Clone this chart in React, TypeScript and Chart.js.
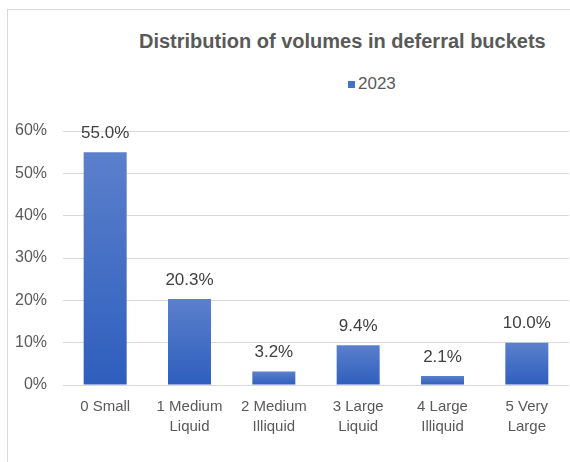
import React, { useEffect, useRef } from "react";
import { Chart, registerables } from "chart.js";

Chart.register(...registerables);

const chartTitle = "Distribution of volumes in deferral buckets";
const seriesName = "2023";
const categories: string[][] = [
  ["0 Small"],
  ["1 Medium", "Liquid"],
  ["2 Medium", "Illiquid"],
  ["3 Large", "Liquid"],
  ["4 Large", "Illiquid"],
  ["5 Very", "Large"],
];
const values2023 = [55.0, 20.3, 3.2, 9.4, 2.1, 10.0];
const yTicks = [0, 10, 20, 30, 40, 50, 60];

const FONT = "'Liberation Sans', Arial, sans-serif";

const valueLabelPlugin = {
  id: "valueLabels",
  afterDatasetsDraw(chart: any) {
    const ctx = chart.ctx;
    const meta = chart.getDatasetMeta(0);
    ctx.save();
    ctx.font = `17px ${FONT}`;
    ctx.fillStyle = "#404040";
    ctx.textAlign = "center";
    ctx.textBaseline = "middle";
    meta.data.forEach((el: any, i: number) => {
      const v = chart.data.datasets[0].data[i] as number;
      ctx.fillText(`${v.toFixed(1)}%`, el.x, el.y - 19);
    });
    ctx.restore();
  },
};

export default function App() {
  const ref = useRef<HTMLCanvasElement | null>(null);

  useEffect(() => {
    if (!ref.current) return;
    const chart = new Chart(ref.current, {
      type: "bar",
      data: {
        labels: categories,
        datasets: [
          {
            label: seriesName,
            data: values2023,
            barPercentage: 0.51,
            categoryPercentage: 1,
            backgroundColor: (c: any) => {
              const ch = c.chart;
              const ys = ch.scales?.y;
              if (!ys || !ch.chartArea || c.raw === undefined) return "#3f6cc4";
              const top = ys.getPixelForValue(c.raw);
              const bottom = ys.getPixelForValue(0);
              if (!isFinite(top) || !isFinite(bottom) || top === bottom) return "#3f6cc4";
              const g = ch.ctx.createLinearGradient(0, top, 0, bottom);
              g.addColorStop(0, "#5b80cc");
              g.addColorStop(1, "#2e5ebd");
              return g;
            },
          },
        ],
      },
      options: {
        animation: false,
        responsive: false,
        maintainAspectRatio: false,
        layout: { padding: { top: 121, right: 1, left: 0, bottom: 0 } },
        plugins: {
          legend: { display: false },
          title: { display: false },
          tooltip: { enabled: false },
        },
        scales: {
          x: {
            grid: { display: false, drawTicks: false },
            border: { display: false },
            ticks: {
              color: "#595959",
              font: { family: FONT, size: 15, lineHeight: 1.33 },
              padding: 12,
              maxRotation: 0,
              autoSkip: false,
            },
            afterFit: (s: any) => {
              s.height = 77;
            },
          },
          y: {
            min: 0,
            max: 60,
            afterBuildTicks: (s: any) => {
              s.ticks = yTicks.map((v) => ({ value: v }));
            },
            grid: { color: "#d9d9d9", lineWidth: 1, drawTicks: false },
            border: { display: false },
            ticks: {
              color: "#595959",
              font: { family: FONT, size: 16 },
              padding: 16,
              callback: (v: any) => `${v}%`,
            },
            afterFit: (s: any) => {
              s.width = 55;
            },
          },
        },
      },
      plugins: [valueLabelPlugin],
    });
    return () => chart.destroy();
  }, []);

  return (
    <div
      style={{
        position: "fixed",
        left: 0,
        top: 0,
        width: 570,
        height: 462,
        background: "#ffffff",
        overflow: "hidden",
        fontFamily: FONT,
      }}
    >
      <div
        style={{
          position: "absolute",
          left: 7,
          top: 9,
          width: 600,
          height: 500,
          borderLeft: "1px solid #d9d9d9",
          borderTop: "1px solid #d9d9d9",
        }}
      />
      <div
        style={{
          position: "absolute",
          left: 139,
          top: 29,
          width: 400,
          textAlign: "center",
          whiteSpace: "nowrap",
          fontWeight: "bold",
          fontSize: 20,
          lineHeight: "24px",
          color: "#595959",
        }}
      >
        {chartTitle}
      </div>
      <div
        style={{
          position: "absolute",
          left: 348,
          top: 74,
          display: "flex",
          alignItems: "center",
          fontSize: 17,
          lineHeight: "20px",
          color: "#595959",
        }}
      >
        <span
          style={{
            display: "inline-block",
            width: 7,
            height: 7,
            background: "#4472c4",
            marginRight: 3,
          }}
        />
        <span>{seriesName}</span>
      </div>
      <canvas
        ref={ref}
        width={562}
        height={452}
        style={{ position: "absolute", left: 8, top: 10, width: 562, height: 452 }}
      />
    </div>
  );
}
